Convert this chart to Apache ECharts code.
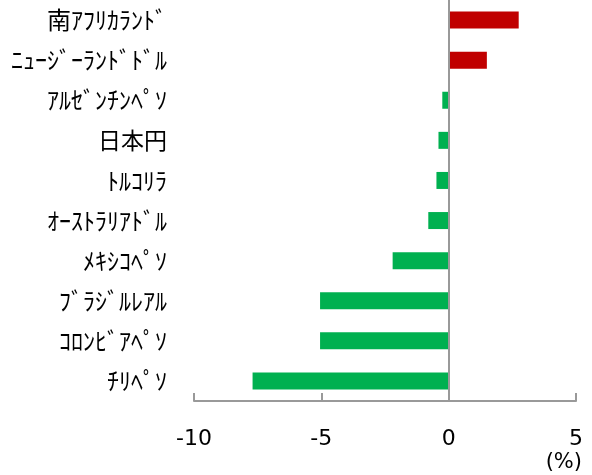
<!DOCTYPE html>
<html><head><meta charset="utf-8">
<script src="https://cdn.jsdelivr.net/npm/echarts@6/dist/echarts.min.js"></script>
<style>html,body{margin:0;padding:0;background:#fff}#c{width:592px;height:475px}</style>
</head><body><div id="c"></div>
<script>
const categories = ['南ｱﾌﾘｶﾗﾝﾄﾞ','ﾆｭｰｼﾞｰﾗﾝﾄﾞﾄﾞﾙ','ｱﾙｾﾞﾝﾁﾝﾍﾟｿ','日本円','ﾄﾙｺﾘﾗ','ｵｰｽﾄﾗﾘｱﾄﾞﾙ','ﾒｷｼｺﾍﾟｿ','ﾌﾞﾗｼﾞﾙﾚｱﾙ','ｺﾛﾝﾋﾞｱﾍﾟｿ','ﾁﾘﾍﾟｿ'];
const values = [2.75, 1.5, -0.25, -0.4, -0.48, -0.8, -2.2, -5.05, -5.05, -7.7];
const xTicks = [-10, -5, 0, 5];

const chart = echarts.init(document.getElementById('c'));
chart.setOption({
  animation: false,
  grid: {left: 194, right: 16, top: 0, height: 401},
  xAxis: {
    type: 'value', min: xTicks[0], max: xTicks[xTicks.length-1], interval: 5,
    axisLine: {show: true, onZero: false, lineStyle: {color: '#999', width: 2}},
    axisTick: {show: true, inside: true, length: 8, lineStyle: {color: '#999', width: 2}},
    splitLine: {show: false},
    axisLabel: {color: '#000', fontSize: 22, fontFamily: 'DejaVu Sans', margin: 27}
  },
  yAxis: {
    type: 'category', data: categories, inverse: true,
    axisLine: {show: false}, axisTick: {show: false},
    axisLabel: {
      margin: 27, color: '#000', fontSize: 24, fontFamily: 'Noto Sans CJK JP',
      formatter: v => v === '日本円' ? '{big|' + v + '}' : v,
      rich: {big: {fontSize: 23, fontFamily: 'Noto Sans CJK JP', color: '#000'}}
    }
  },
  series: [{
    type: 'bar', data: values, barWidth: 17,
    itemStyle: {color: p => p.value >= 0 ? '#C00000' : '#00B050'},
    markLine: {
      silent: true, symbol: 'none', label: {show: false},
      lineStyle: {color: '#999', width: 2, type: 'solid'},
      data: [{xAxis: 0}]
    }
  }],
  graphic: [{
    type: 'text', right: 10, top: 452,
    style: {text: '(%)', fontSize: 21, fontFamily: 'DejaVu Sans', fill: '#000'}
  }]
});
</script></body></html>
